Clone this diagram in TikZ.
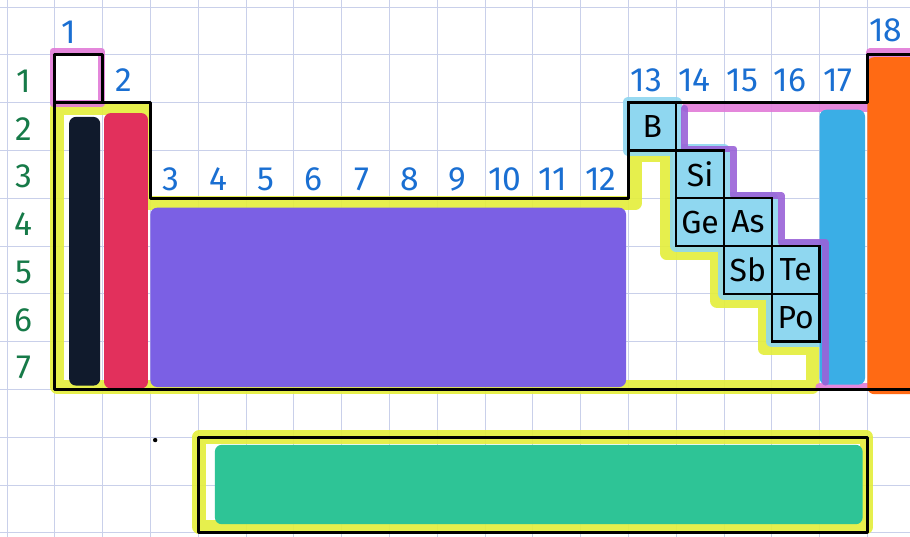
\documentclass[tikz,border=0pt]{standalone}
\usepackage{fontspec}
\setmainfont{Fira Sans}
\usetikzlibrary{positioning}

\definecolor{grille}{HTML}{C9D0EA}
\definecolor{jaune}{HTML}{E4EE3A}
\definecolor{rose}{HTML}{E27AD8}
\definecolor{violet}{HTML}{9A62D8}
\definecolor{alcalin}{HTML}{101A2C}
\definecolor{alcterre}{HTML}{E2305C}
\definecolor{transition}{HTML}{7B60E4}
\definecolor{halogene}{HTML}{3AAEE6}
\definecolor{gazrare}{HTML}{FF6A14}
\definecolor{terrerare}{HTML}{2EC496}
\definecolor{metallo}{HTML}{8FD7F0}
\definecolor{bleu}{HTML}{1A6FD2}
\definecolor{vert}{HTML}{167A48}

\begin{document}
\begin{tikzpicture}[
    node distance={0cm},
    groupe/.style = {text=bleu, font=\fontsize{20}{22}\selectfont},
    periode/.style = {text=vert, font=\fontsize{20}{22}\selectfont},
    cell/.style = {draw, line width=1.4pt, fill=metallo, minimum size=1cm,
                   inner sep=0pt, outer sep=0pt, font=\fontsize{19}{21}\selectfont},
    surligne/.style = {line width=8pt, line join=round, line cap=round, opacity=0.9},
    contour/.style = {line width=1.6pt, line join=round},
    bloc/.style = {rounded corners=4pt}
]

    % Cadre et papier quadrillé
    \fill[white] (-0.146,0.146) rectangle (18.891,-11.088);
    \useasboundingbox (-0.146,0.146) rectangle (18.891,-11.088);
    \draw[grille, line width=0.5pt] (-1,1) grid (20,-12);

    % Surligneurs (highlights)
    \draw[surligne, jaune] (1.05,-2.12) -- (2.9,-2.12) -- (2.9,-4.1) -- (13.15,-4.1)
        -- (13.15,-3.1) -- (13.8,-3.1) -- (13.8,-5.15) -- (14.85,-5.15) -- (14.85,-6.15)
        -- (15.85,-6.15) -- (15.85,-7.15) -- (16.85,-7.15) -- (16.85,-7.95) -- (1.05,-7.95) -- cycle;
    \draw[surligne, jaune] (4.02,-9.0) rectangle (17.98,-10.88);
    \draw[surligne, rose, line width=4pt] (0.96,-0.93) rectangle (1.98,-2.02);
    \draw[surligne, rose, line width=5pt] (14.2,-2.1) -- (18.05,-2.1) -- (18.05,-0.95) -- (19.2,-0.95);
    \draw[surligne, rose, line width=5pt] (17.0,-7.95) -- (18.1,-7.95);
    \draw[surligne, metallo, line width=7pt] (13,-2) -- (14,-2) -- (14,-3) -- (15,-3) -- (15,-4)
        -- (16,-4) -- (16,-5) -- (17,-5) -- (17,-7) -- (16,-7) -- (16,-6) -- (15,-6) -- (15,-5)
        -- (14,-5) -- (14,-3) -- (13,-3) -- cycle;

    % Familles coloriées (blocks)
    \fill[bloc, alcalin] (1.3,-2.3) rectangle (1.95,-7.92);
    \fill[bloc, alcterre] (2.03,-2.22) rectangle (2.95,-7.98);
    \fill[bloc, transition] (3.0,-4.2) rectangle (12.95,-7.95);
    \fill[bloc, halogene] (17.0,-2.15) rectangle (17.95,-7.9);
    \fill[bloc, gazrare] (18.0,-1.05) rectangle (19.2,-8.1);
    \fill[bloc, terrerare] (4.35,-9.16) rectangle (17.9,-10.82);
    \draw[surligne, violet, line width=4pt] (14.17,-2.12) -- (14.17,-2.97) -- (15.2,-2.97)
        -- (15.2,-3.95) -- (16.2,-3.95) -- (16.2,-4.92) -- (17.12,-4.92) -- (17.12,-7.85);

    % Contours (outlines)
    \draw[contour] (1,-1) rectangle (2,-2);
    \draw[contour] (19.2,-1) -- (18,-1) -- (18,-2) -- (13,-2) -- (13,-4) -- (3,-4)
        -- (3,-2) -- (1,-2) -- (1,-8) -- (19.2,-8);
    \draw[contour] (4,-9) rectangle (18,-11);
    \fill (3.1,-9.06) circle (1.3pt);

    % Métalloïdes (nodes)
    \node[cell] (B) at (13.5,-2.5) {B};
    \node[cell] (Si) [below right=0cm and 0cm of B] {Si};
    \node[cell] (Ge) [below=of Si] {Ge};
    \node[cell] (As) [right=of Ge] {As};
    \node[cell] (Sb) [below=of As] {Sb};
    \node[cell] (Te) [right=of Sb] {Te};
    \node[cell] (Po) [below=of Te] {Po};

    % Numéros des groupes et des périodes (labels)
    \node[groupe] (g1) at (1.3,-0.52) {1};
    \node[groupe] (g2) at (2.45,-1.53) {2};
    \foreach \c in {3,...,12}
        \node[groupe] (g\c) at (\c+0.42,-3.6) {\c};
    \foreach \c in {13,...,17}
        \node[groupe] (g\c) at (\c+0.38,-1.53) {\c};
    \node[groupe] (g18) at (18.38,-0.48) {18};
    \foreach \r in {1,...,7}
        \node[periode] (p\r) at (0.35,-\r-0.55) {\r};

\end{tikzpicture}
\end{document}
